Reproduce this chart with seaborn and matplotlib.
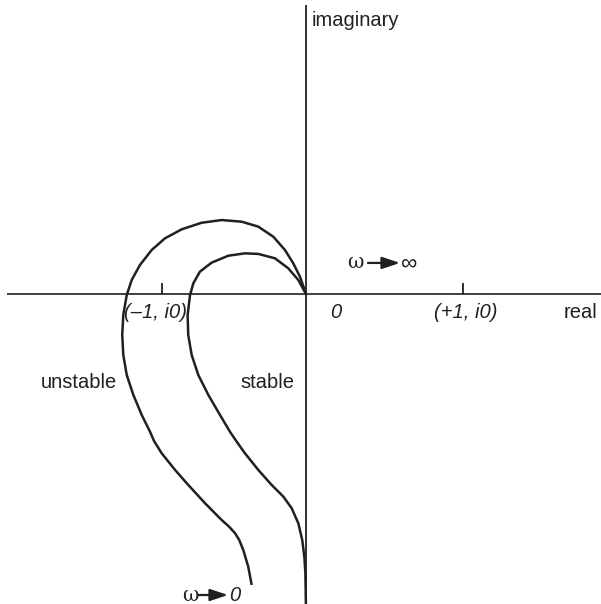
import matplotlib

matplotlib.use("Agg")
import matplotlib.pyplot as plt
import pandas as pd
import seaborn as sns

# Nyquist sketch: two loci in the complex plane (unit ~ 150 px)
unstable_re = [0.0, -0.04, -0.085, -0.14, -0.218, -0.318, -0.429, -0.562, -0.695, -0.829,
               -0.94, -1.029, -1.107, -1.162, -1.195, -1.218, -1.225, -1.218, -1.195, -1.151,
               -1.095, -1.04, -1.013, -0.962, -0.873, -0.785, -0.673, -0.562, -0.513, -0.473,
               -0.445, -0.418, -0.385, -0.362]
unstable_im = [0.0, 0.115, 0.205, 0.293, 0.382, 0.449, 0.482, 0.493, 0.475, 0.431,
               0.371, 0.293, 0.193, 0.093, -0.007, -0.14, -0.273, -0.407, -0.54, -0.673,
               -0.807, -0.918, -0.98, -1.062, -1.173, -1.273, -1.395, -1.507, -1.551, -1.595,
               -1.64, -1.707, -1.818, -1.94]

stable_re = [0.0, -0.051, -0.118, -0.207, -0.318, -0.407, -0.518, -0.629, -0.707, -0.751,
             -0.773, -0.789, -0.785, -0.762, -0.718, -0.651, -0.573, -0.507, -0.463, -0.407,
             -0.318, -0.229, -0.151, -0.095, -0.051, -0.025, -0.011, -0.004, 0.0]
stable_im = [0.0, 0.093, 0.171, 0.238, 0.267, 0.271, 0.255, 0.209, 0.149, 0.071,
             -0.007, -0.14, -0.273, -0.407, -0.54, -0.673, -0.807, -0.918, -0.983, -1.062,
             -1.173, -1.273, -1.351, -1.429, -1.529, -1.64, -1.751, -1.86, -2.1]

tick_re = [-0.96, 1.047]
tick_labels = ["(\u20131, i0)", "(+1, i0)"]

INK = "#231f20"

sns.set_theme(style="white")
plt.rcParams["font.family"] = ["Liberation Sans", "DejaVu Sans"]
plt.rcParams["text.color"] = INK

loci = pd.concat([
    pd.DataFrame({"re": unstable_re, "im": unstable_im, "curve": "unstable"}),
    pd.DataFrame({"re": stable_re, "im": stable_im, "curve": "stable"}),
], ignore_index=True)

fig = plt.figure(figsize=(6.01, 6.04), dpi=100)
ax = fig.add_axes([0, 0, 1, 1])
ax.set_axis_off()

# axes of the complex plane
ax.plot([-1.993, 2.0], [0, 0], color=INK, lw=1.2, solid_capstyle="butt")
ax.plot([0, 0], [1.927, -2.1], color=INK, lw=1.3, solid_capstyle="butt")
ax.vlines(tick_re, 0, 0.073, color=INK, lw=1.3)

sns.lineplot(data=loci, x="re", y="im", units="curve", estimator=None, sort=False,
             color=INK, lw=1.8, ax=ax, legend=False,
             solid_joinstyle="round", solid_capstyle="butt")
ax.set_xlim(-2.04, 1.967)
ax.set_ylim(-2.067, 1.96)

fs = 14.5
ax.text(0.04, 1.82, "imaginary", fontsize=fs, ha="left", va="center")
ax.text(1.833, -0.125, "real", fontsize=fs, ha="center", va="center")
ax.text(0.2, -0.125, "0", fontsize=fs, style="italic", ha="center", va="center")
for x, lab in zip(tick_re, tick_labels):
    ax.text(x - 0.045 if x < 0 else x + 0.02, -0.125, lab, fontsize=fs,
            style="italic", ha="center", va="center")
ax.text(-1.513, -0.59, "unstable", fontsize=fs, ha="center", va="center")
ax.text(-0.257, -0.59, "stable", fontsize=fs, ha="center", va="center")

arrow = dict(arrowstyle="-|>,head_length=0.6,head_width=0.2", color=INK,
             lw=1.6, mutation_scale=18, shrinkA=0, shrinkB=0)
# omega -> infinity
ax.text(0.33, 0.207, "\u03c9", fontsize=fs, family=["DejaVu Serif"],
        ha="center", va="center")
ax.annotate("", xy=(0.627, 0.207), xytext=(0.413, 0.207), arrowprops=arrow)
ax.text(0.633, 0.207, "\u221e", fontsize=fs + 2, ha="left", va="center")
# omega -> 0
ax.text(-0.77, -2.007, "\u03c9", fontsize=fs, family=["DejaVu Serif"],
        ha="center", va="center")
ax.annotate("", xy=(-0.52, -2.007), xytext=(-0.72, -2.007), arrowprops=arrow)
ax.text(-0.51, -2.007, "0", fontsize=fs, style="italic", ha="left", va="center")

fig.savefig("out.png", dpi=100)
